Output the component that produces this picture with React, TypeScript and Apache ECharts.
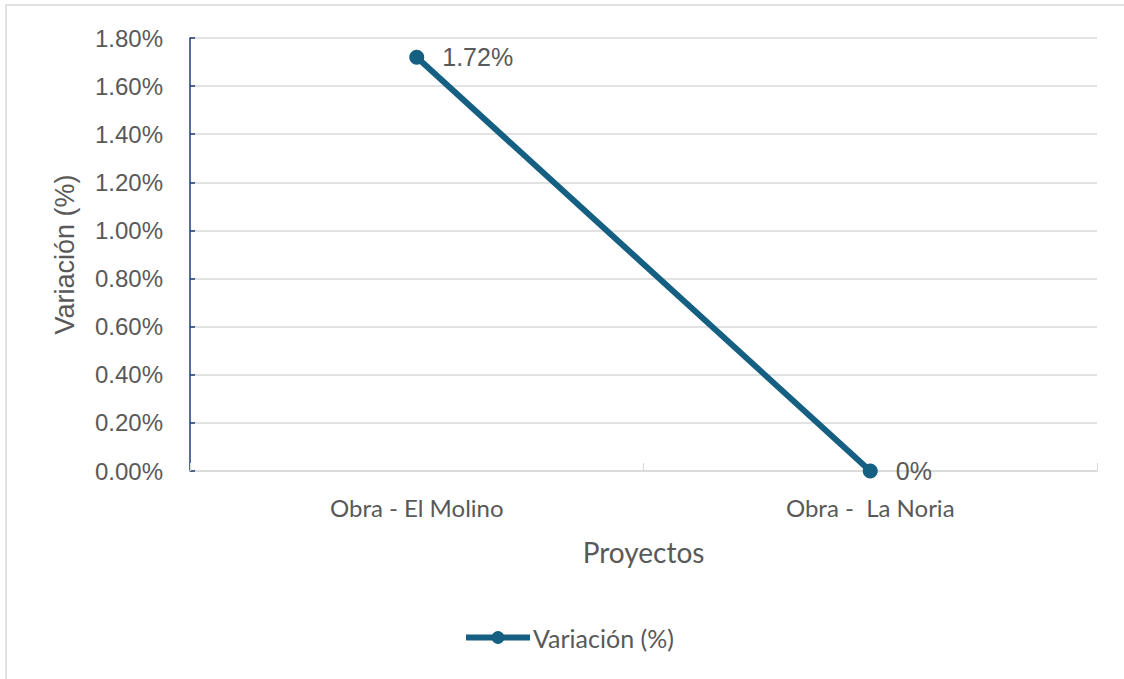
import React, { useEffect, useRef } from "react";
import * as echarts from "echarts";

const categories = ["Obra - El Molino", "Obra -  La Noria"];
const variacion = [1.72, 0];
const seriesName = "Variación (%)";
const yAxisName = "Variación (%)";
const xAxisName = "Proyectos";
const yMin = 0;
const yMax = 1.8;
const yInterval = 0.2;

export default function App() {
  const ref = useRef<HTMLDivElement>(null);
  useEffect(() => {
    if (!ref.current) return;
    const chart = echarts.init(ref.current, undefined, { renderer: "svg" });
    const gray = "#595959";
    chart.setOption({
      animation: false,
      backgroundColor: "#ffffff",
      graphic: [
        {
          type: "rect",
          shape: { x: 6, y: 5, width: 1140, height: 700 },
          style: { fill: "none", stroke: "#d9d9d9", lineWidth: 1.5 },
          silent: true,
          z: -1,
        },
      ],
      grid: { left: 190, top: 38, right: 27, bottom: 208, containLabel: false },
      legend: {
        left: 463,
        top: 625,
        padding: 0,
        itemWidth: 64,
        itemHeight: 16,
        itemGap: 10,
        data: [seriesName],
        lineStyle: { width: 6 },
        textStyle: { fontFamily: "Lato", fontSize: 25, color: gray, padding: [0, 0, 0, -2] },
      },
      xAxis: {
        type: "category",
        data: categories,
        boundaryGap: true,
        name: xAxisName,
        nameLocation: "middle",
        nameGap: 67,
        nameTextStyle: { fontFamily: "Lato", fontSize: 28, color: gray, verticalAlign: "top" },
        axisLine: { show: true, lineStyle: { color: "#d9d9d9", width: 1.5 } },
        axisTick: { show: true, inside: true, length: 8, lineStyle: { color: "#d9d9d9" } },
        axisLabel: { fontFamily: "Lato", fontSize: 24, color: gray, margin: 24 },
        splitLine: { show: false },
      },
      yAxis: {
        type: "value",
        min: yMin,
        max: yMax,
        interval: yInterval,
        name: yAxisName,
        nameLocation: "middle",
        nameGap: 125,
        nameRotate: 90,
        nameTextStyle: { fontFamily: "Liberation Sans", fontSize: 27, color: gray, verticalAlign: "middle" },
        axisLine: { show: true, lineStyle: { color: "#1f3b73", width: 1.5 } },
        axisTick: { show: true, inside: true, length: 5, lineStyle: { color: "#1f3b73", width: 1.5 } },
        axisLabel: {
          fontFamily: "Liberation Sans",
          fontSize: 24,
          color: gray,
          margin: 27,
          formatter: (v: number) => v.toFixed(2) + "%",
        },
        splitLine: { show: true, lineStyle: { color: "#d9d9d9", width: 1.5 } },
      },
      series: [
        {
          name: seriesName,
          type: "line",
          data: variacion,
          symbol: "circle",
          symbolSize: 15,
          lineStyle: { color: "#156082", width: 6 },
          itemStyle: { color: "#156082" },
          label: {
            show: true,
            position: "right",
            distance: 18,
            fontFamily: "Liberation Sans",
            fontSize: 25,
            color: gray,
            formatter: (p: any) => p.value + "%",
          },
        },
      ],
    });
    return () => chart.dispose();
  }, []);
  return (
    <div
      ref={ref}
      style={{ position: "fixed", left: 0, top: 0, width: 1124, height: 679 }}
    />
  );
}
